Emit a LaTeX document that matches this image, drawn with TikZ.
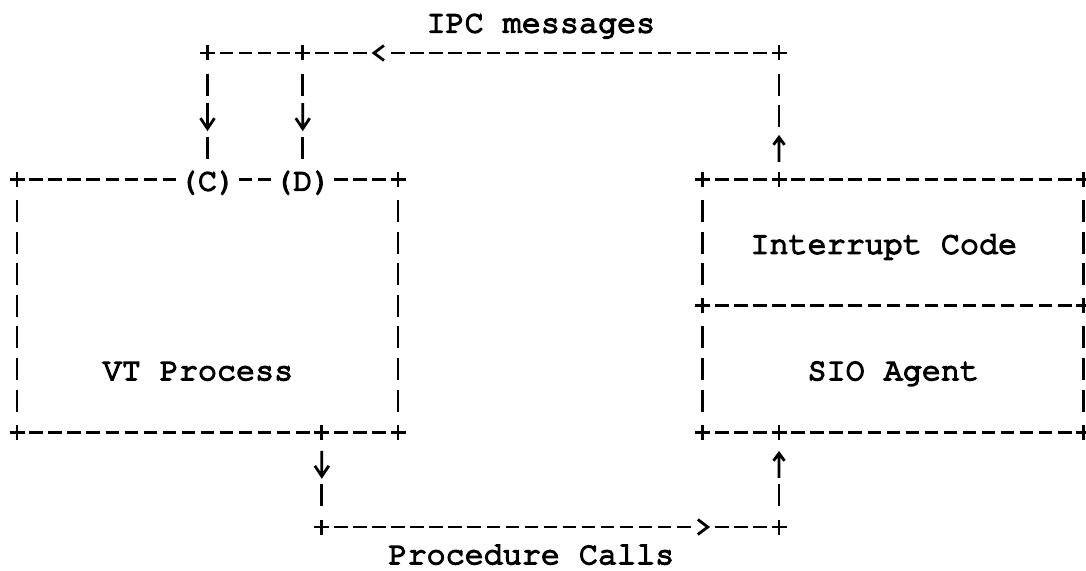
\documentclass[tikz,border=0pt]{standalone}
\usepackage{fontspec}
\newfontfamily\tw{TeX Gyre Cursor}[FakeBold=5]
\begin{document}
\begin{tikzpicture}[x=19.05pt, y=-31.6pt,
  ink/.style={line width=2.8pt},
  cell/.style={minimum width=19.05pt, minimum height=31.6pt, inner sep=0pt, outer sep=0pt},
  lbl/.style={inner sep=0pt, outer sep=0pt, text height=26.8pt, text depth=4.8pt,
              font=\tw\fontsize{31.75pt}{31.6pt}\selectfont},
  hcon/.style={ink, dash pattern=on 13.5pt off 5.55pt, shorten <=2.775pt, shorten >=2.775pt},
  vcon/.style={ink, dash pattern=on 22pt off 9.6pt, shorten <=4.8pt, shorten >=4.8pt}]
\useasboundingbox (-0.8924,-0.6772) rectangle (56.115,17.392);

% text labels
\node[lbl] (ipc)  at (27.5,0)  {IPC messages};
\node[lbl, text depth=0pt, yshift=8pt] (proc) at (27,17) {Procedure Calls};
\node[lbl] (vt)   at (9.5,11)  {VT Process};
\node[lbl] (irq)  at (45.5,7)  {Interrupt Code};
\node[lbl] (sio)  at (46,11)   {SIO Agent};
\node[lbl] (C)    at (10,5)    {(C)};
\node[lbl] (D)    at (15,5)    {(D)};

% corner cells of the VT process box
\node[cell] (vtTL)  at (0,5)  {};
\node[cell] (vtTR)  at (20,5) {};
\node[cell] (vtBL)  at (0,13) {};
\node[cell] (vtOut) at (16,13) {};
\node[cell] (vtBR)  at (20,13) {};
% corner cells of the interrupt code / SIO agent box
\node[cell] (rbTL)  at (36,5)  {};
\node[cell] (rbIn)  at (40,5)  {};
\node[cell] (rbTR)  at (56,5)  {};
\node[cell] (rbML)  at (36,9)  {};
\node[cell] (rbMR)  at (56,9)  {};
\node[cell] (rbBL)  at (36,13) {};
\node[cell] (rbBot) at (40,13) {};
\node[cell] (rbBR)  at (56,13) {};
% bends of the message and call paths
\node[cell] (ipcL) at (10,1) {};
\node[cell] (ipcM) at (15,1) {};
\node[cell] (ipcR) at (40,1) {};
\node[cell] (pcL)  at (16,16) {};
\node[cell] (pcR)  at (40,16) {};
% arrow cells
\node[cell] (lt)    at (19,1)  {};
\node[cell] (downC) at (10,3)  {};
\node[cell] (downD) at (15,3)  {};
\node[cell] (upI)   at (40,4)  {};
\node[cell] (downP) at (16,14) {};
\node[cell] (gt)    at (36,16) {};
\node[cell] (upP)   at (40,14) {};

% plus marks
\foreach \n in {vtTL,vtTR,vtBL,vtOut,vtBR,rbTL,rbIn,rbTR,rbML,rbMR,rbBL,rbBot,rbBR,ipcL,ipcM,ipcR,pcL,pcR}
  \draw[ink] ([xshift=-7.5pt]\n.center) -- ([xshift=7.5pt]\n.center)
             ([yshift=-7.5pt]\n.center) -- ([yshift=7.5pt]\n.center);
% down arrows
\foreach \n in {downC,downD,downP}
  \draw[ink] ([yshift=13pt]\n.center) -- ([yshift=-12pt]\n.center)
             ([shift={(-7pt,-2pt)}]\n.center) -- ([yshift=-12.5pt]\n.center) -- ([shift={(7pt,-2pt)}]\n.center);
% up arrows
\foreach \n in {upI,upP}
  \draw[ink] ([yshift=10pt]\n.center) -- ([yshift=-14pt]\n.center)
             ([shift={(-5.5pt,3pt)}]\n.center) -- ([yshift=10.5pt]\n.center) -- ([shift={(5.5pt,3pt)}]\n.center);
% horizontal chevrons
\draw[ink] ([shift={(5pt,7.5pt)}]lt.center) -- ([xshift=-5pt]lt.center) -- ([shift={(5pt,-7.5pt)}]lt.center);
\draw[ink] ([shift={(-5pt,7.5pt)}]gt.center) -- ([xshift=5pt]gt.center) -- ([shift={(-5pt,-7.5pt)}]gt.center);

% VT process box
\draw[hcon] (vtTL.east) -- (C.west);
\draw[hcon] (C.east) -- (D.west);
\draw[hcon] (D.east) -- (vtTR.west);
\draw[vcon] (vtTL.south) -- (vtBL.north);
\draw[vcon] (vtTR.south) -- (vtBR.north);
\draw[hcon] (vtBL.east) -- (vtOut.west);
\draw[hcon] (vtOut.east) -- (vtBR.west);

% interrupt code / SIO agent box
\draw[hcon] (rbTL.east) -- (rbIn.west);
\draw[hcon] (rbIn.east) -- (rbTR.west);
\draw[vcon] (rbTL.south) -- (rbML.north);
\draw[vcon] (rbML.south) -- (rbBL.north);
\draw[vcon] (rbTR.south) -- (rbMR.north);
\draw[vcon] (rbMR.south) -- (rbBR.north);
\draw[hcon] (rbML.east) -- (rbMR.west);
\draw[hcon] (rbBL.east) -- (rbBot.west);
\draw[hcon] (rbBot.east) -- (rbBR.west);

% IPC message path
\draw[vcon] (upI.north) -- (ipcR.south);
\draw[hcon] (lt.east) -- (ipcR.west);
\draw[hcon] (ipcM.east) -- (lt.west);
\draw[hcon] (ipcL.east) -- (ipcM.west);
\draw[vcon] (ipcL.south) -- (downC.north);
\draw[vcon] (downC.south) -- (C.north);
\draw[vcon] (ipcM.south) -- (downD.north);
\draw[vcon] (downD.south) -- (D.north);

% procedure call path
\draw[vcon] (downP.south) -- (pcL.north);
\draw[hcon] (pcL.east) -- (gt.west);
\draw[hcon] (gt.east) -- (pcR.west);
\draw[vcon] (pcR.north) -- (upP.south);
\end{tikzpicture}
\end{document}
